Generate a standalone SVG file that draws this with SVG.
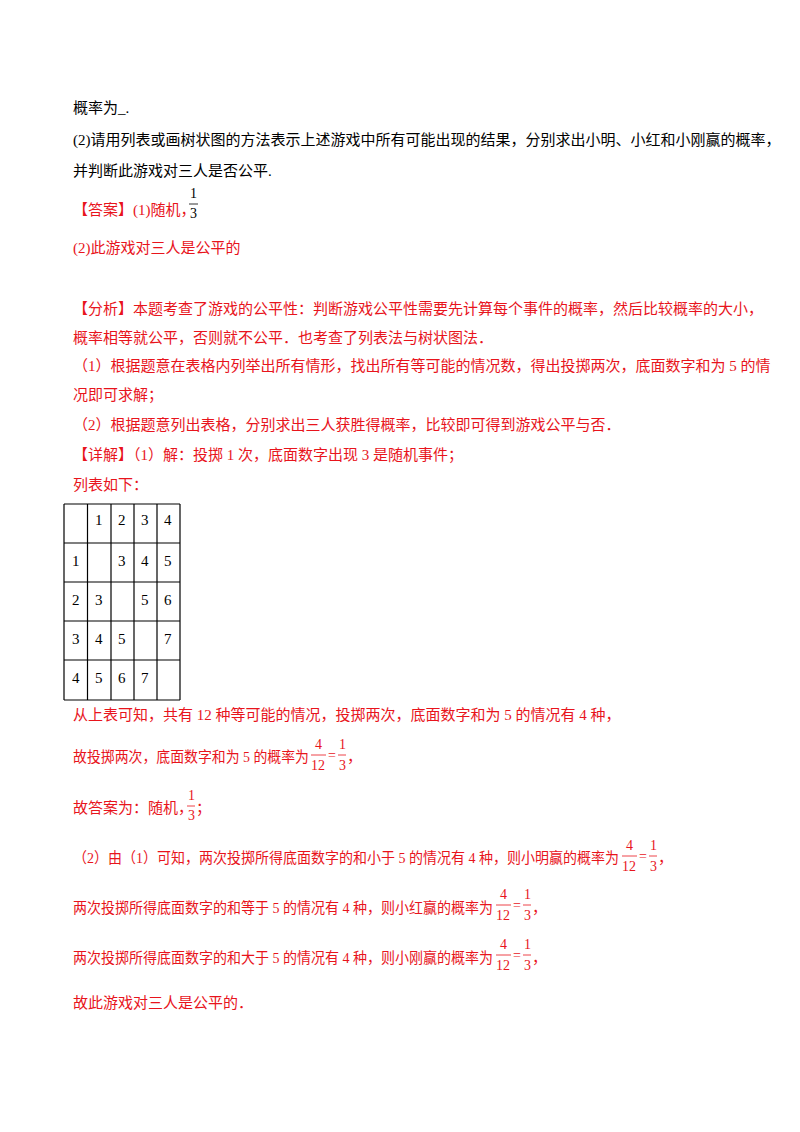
<svg xmlns="http://www.w3.org/2000/svg" width="800" height="1132" viewBox="0 0 800 1132">
<style>
text{font-family:"Liberation Serif","Noto Sans CJK SC",serif;font-size:15px;fill:#000}
.r{fill:#e8141c}
.n{font-family:"Liberation Serif",serif;font-size:14px}
.fl{stroke:#000;stroke-width:0.8}
.rl{stroke:#e8141c;stroke-width:0.8}
.t line{stroke:#000;stroke-width:1.2}
</style>
<rect width="800" height="1132" fill="#fff"/>
<text x="73" y="113">概率为_.</text>
<text x="73" y="145">(2)请用列表或画树状图的方法表示上述游戏中所有可能出现的结果，分别求出小明、小红和小刚赢的概率，</text>
<text x="73" y="176">并判断此游戏对三人是否公平.</text>
<text x="73" y="215" class="r">【答案】(1)随机，</text>
<text x="190" y="198" class="n">1</text><line x1="189" y1="204" x2="198" y2="204" class="fl"/><text x="190" y="218" class="n">3</text>
<text x="73" y="253" class="r">(2)此游戏对三人是公平的</text>
<text x="73" y="314" class="r">【分析】本题考查了游戏的公平性：判断游戏公平性需要先计算每个事件的概率，然后比较概率的大小，</text>
<text x="73" y="343" class="r">概率相等就公平，否则就不公平．也考查了列表法与树状图法．</text>
<text x="73" y="371" class="r">（1）根据题意在表格内列举出所有情形，找出所有等可能的情况数，得出投掷两次，底面数字和为 5 的情</text>
<text x="73" y="400" class="r">况即可求解；</text>
<text x="73" y="430" class="r">（2）根据题意列出表格，分别求出三人获胜得概率，比较即可得到游戏公平与否．</text>
<text x="73" y="460" class="r">【详解】（1）解：投掷 1 次，底面数字出现 3 是随机事件；</text>
<text x="73" y="490" class="r">列表如下：</text>
<g class="t" id="table">
<line x1="64" y1="504" x2="180" y2="504"/><line x1="64" y1="543" x2="180" y2="543"/><line x1="64" y1="582" x2="180" y2="582"/><line x1="64" y1="621" x2="180" y2="621"/><line x1="64" y1="660" x2="180" y2="660"/><line x1="64" y1="700" x2="180" y2="700"/>
<line x1="64" y1="504" x2="64" y2="700"/><line x1="87.5" y1="504" x2="87.5" y2="700"/><line x1="111" y1="504" x2="111" y2="700"/><line x1="134" y1="504" x2="134" y2="700"/><line x1="157" y1="504" x2="157" y2="700"/><line x1="180" y1="504" x2="180" y2="700"/>
<text x="95" y="525">1</text><text x="118" y="525">2</text><text x="141" y="525">3</text><text x="164" y="525">4</text>
<text x="72" y="566">1</text><text x="118" y="566">3</text><text x="141" y="566">4</text><text x="164" y="566">5</text>
<text x="72" y="605">2</text><text x="95" y="605">3</text><text x="141" y="605">5</text><text x="164" y="605">6</text>
<text x="72" y="644">3</text><text x="95" y="644">4</text><text x="118" y="644">5</text><text x="164" y="644">7</text>
<text x="72" y="683">4</text><text x="95" y="683">5</text><text x="118" y="683">6</text><text x="141" y="683">7</text>
</g>
<text x="73" y="720" class="r">从上表可知，共有 12 种等可能的情况，投掷两次，底面数字和为 5 的情况有 4 种，</text>
<text x="73" y="762" class="r" textLength="236" lengthAdjust="spacingAndGlyphs">故投掷两次，底面数字和为 5 的概率为</text>
<text x="315" y="749" class="r n">4</text><line x1="311" y1="755" x2="326" y2="755" class="rl"/><text x="311" y="770" class="r n">12</text><text x="328" y="760" class="r n">=</text><text x="339" y="749" class="r n">1</text><line x1="338" y1="755" x2="346" y2="755" class="rl"/><text x="339" y="770" class="r n">3</text><text x="347" y="762" class="r">，</text>
<text x="73" y="813" class="r">故答案为：随机，</text>
<text x="188" y="800" class="r n">1</text><line x1="187" y1="806" x2="195" y2="806" class="rl"/><text x="188" y="820" class="r n">3</text><text x="196" y="813" class="r">；</text>
<text x="73" y="863" class="r" textLength="546" lengthAdjust="spacingAndGlyphs">（2）由（1）可知，两次投掷所得底面数字的和小于 5 的情况有 4 种，则小明赢的概率为</text>
<text x="626" y="850" class="r n">4</text><line x1="622" y1="856" x2="637" y2="856" class="rl"/><text x="622" y="871" class="r n">12</text><text x="639" y="861" class="r n">=</text><text x="650" y="850" class="r n">1</text><line x1="649" y1="856" x2="657" y2="856" class="rl"/><text x="650" y="871" class="r n">3</text><text x="658" y="863" class="r">，</text>
<text x="73" y="913" class="r" textLength="420" lengthAdjust="spacingAndGlyphs">两次投掷所得底面数字的和等于 5 的情况有 4 种，则小红赢的概率为</text>
<text x="500" y="899" class="r n">4</text><line x1="496" y1="905" x2="511" y2="905" class="rl"/><text x="496" y="920" class="r n">12</text><text x="513" y="910" class="r n">=</text><text x="524" y="899" class="r n">1</text><line x1="523" y1="905" x2="531" y2="905" class="rl"/><text x="524" y="920" class="r n">3</text><text x="532" y="913" class="r">，</text>
<text x="73" y="963" class="r" textLength="420" lengthAdjust="spacingAndGlyphs">两次投掷所得底面数字的和大于 5 的情况有 4 种，则小刚赢的概率为</text>
<text x="500" y="949" class="r n">4</text><line x1="496" y1="955" x2="511" y2="955" class="rl"/><text x="496" y="970" class="r n">12</text><text x="513" y="960" class="r n">=</text><text x="524" y="949" class="r n">1</text><line x1="523" y1="955" x2="531" y2="955" class="rl"/><text x="524" y="970" class="r n">3</text><text x="532" y="963" class="r">，</text>
<text x="73" y="1008" class="r">故此游戏对三人是公平的．</text>
</svg>
